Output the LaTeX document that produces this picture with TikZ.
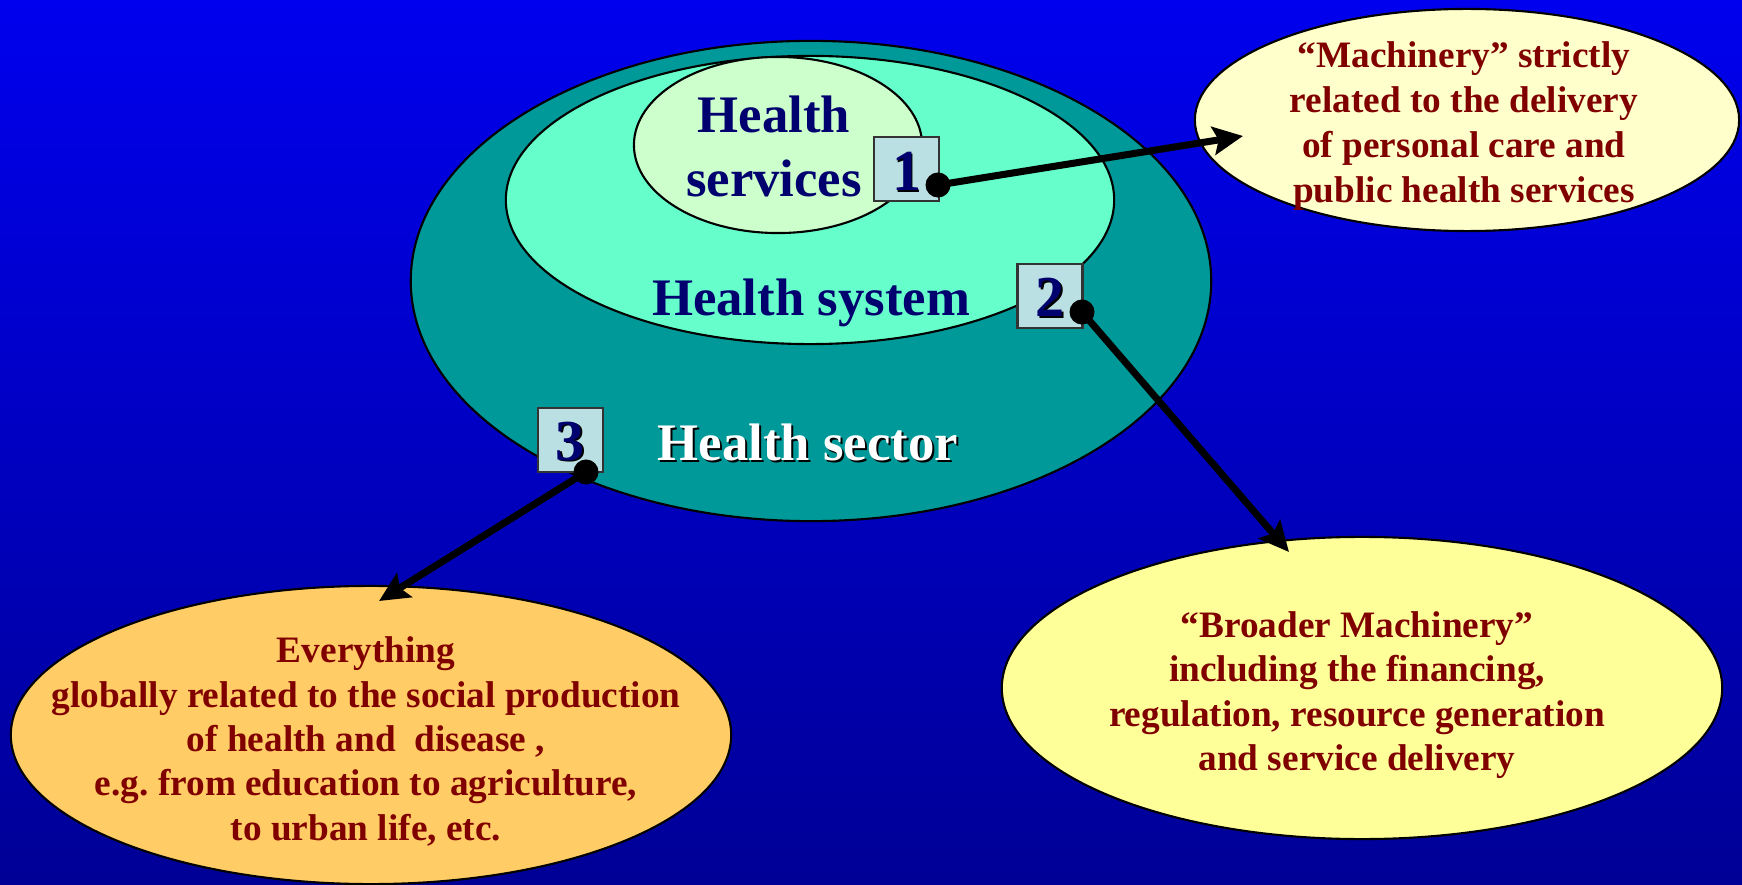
\documentclass[tikz,border=0pt]{standalone}
\usepackage{fontspec}
\setmainfont{Liberation Serif}
\usetikzlibrary{shapes.geometric,arrows.meta}
\frenchspacing
\definecolor{bgtop}{RGB}{0,0,238}
\definecolor{bgbot}{RGB}{0,0,150}
\definecolor{sectorc}{RGB}{0,153,153}
\definecolor{systemc}{RGB}{102,255,204}
\definecolor{servc}{RGB}{204,255,204}
\definecolor{boxc}{RGB}{187,224,227}
\definecolor{navy}{RGB}{0,0,110}
\definecolor{dred}{RGB}{128,0,0}
\definecolor{ylwa}{RGB}{255,255,204}
\definecolor{ylwb}{RGB}{255,255,153}
\definecolor{orng}{RGB}{255,204,102}
\tikzset{
  oval/.style={ellipse, draw=black, line width=0.6pt, inner sep=0pt, outer sep=0pt},
  numbox/.style={draw=black!80, line width=0.6pt, fill=boxc, minimum width=0.65cm, minimum height=0.64cm, inner sep=0pt},
  bigtxt/.style={font=\fontsize{15pt}{18.2pt}\selectfont\bfseries, text=navy, inner sep=0pt, align=center},
  numtxt/.style={font=\fontsize{16.5pt}{18pt}\selectfont\bfseries, inner sep=0pt},
  smalltxt/.style={font=\fontsize{10.6pt}{12.6pt}\selectfont\bfseries, text=dred, inner sep=0pt, align=center},
  arr/.style={line width=2pt, -{Stealth[length=8.5pt,width=8pt,inset=1.5pt]}},
  dot/.style={circle, fill=black, minimum size=0.25cm, inner sep=0pt}
}
\begin{document}
\begin{tikzpicture}[x=0.01cm,y=-0.01cm]
\useasboundingbox (0,0) rectangle (1742,885);
\fill[top color=bgtop, bottom color=bgbot] (0,0) rectangle (1742,885);

% nested ellipses
\node[oval, fill=sectorc, minimum width=8cm, minimum height=4.8cm] (sector) at (811,281) {};
\node[oval, fill=systemc, minimum width=6.08cm, minimum height=2.88cm] (system) at (810,200) {};
\node[oval, fill=servc, minimum width=2.88cm, minimum height=1.76cm] (services) at (778,145) {};

% outer ellipses
\node[oval, fill=ylwa, minimum width=5.44cm, minimum height=2.22cm] (machinery) at (1467,120) {};
\node[oval, fill=ylwb, minimum width=7.2cm, minimum height=3.02cm] (broader) at (1362,688) {};
\node[oval, fill=orng, minimum width=7.2cm, minimum height=2.98cm] (everything) at (371,735) {};

% labels in nested ellipses
\node[bigtxt] (servtxt) at (774,146) {Health\\services};
\node[bigtxt, anchor=base] (systxt) at (811,315) {Health system};
\node[bigtxt, anchor=base, text=black] (sectshadow) at (810,462) {Health sector};
\node[bigtxt, anchor=base, text=white] (secttxt) at (808,460) {Health sector};

% number boxes
\node[numbox] (b1) at (906.5,169) {};
\node[numbox] (b2) at (1050,296) {};
\node[numbox] (b3) at (570.5,440) {};
\node[numtxt, anchor=base, text=black] (n1s) at (908,192.5) {1};
\node[numtxt, anchor=base, text=navy] (n1) at (906.5,191) {1};
\node[numtxt, anchor=base, text=black] (n2s) at (1051.5,318.5) {2};
\node[numtxt, anchor=base, text=navy] (n2) at (1050,317) {2};
\node[numtxt, anchor=base, text=black] (n3s) at (572,461.5) {3};
\node[numtxt, anchor=base, text=navy] (n3) at (570.5,460) {3};

% texts of outer ellipses
\node[smalltxt, font=\fontsize{10.6pt}{12.8pt}\selectfont\bfseries] (mtxt) at (1464,126) {“Machinery” strictly\\related to the delivery\\of personal care and\\public health services};
\node[smalltxt, font=\fontsize{10.6pt}{12.6pt}\selectfont\bfseries] (btxt) at (1357,695) {“Broader Machinery”\\including the financing,\\regulation, resource generation\\and service delivery};
\node[smalltxt, font=\fontsize{10.6pt}{12.6pt}\selectfont\bfseries] (etxt) at (366,741.5) {Everything\\globally related to the social production\\of health and~ disease~,\\e.g. from education to agriculture,\\to urban life, etc.};

% connectors
\coordinate (d1) at (938,185);
\coordinate (d2) at (1082,312);
\coordinate (d3) at (586,472);
\coordinate (t1) at (1243,136);
\coordinate (t2) at (1289,552);
\coordinate (t3) at (379,601);
\draw[arr] (d1) -- (t1);
\draw[arr] (d2) -- (t2);
\draw[arr] (d3) -- (t3);
\node[dot] (p1) at (d1) {};
\node[dot] (p2) at (d2) {};
\node[dot] (p3) at (d3) {};
\end{tikzpicture}
\end{document}
